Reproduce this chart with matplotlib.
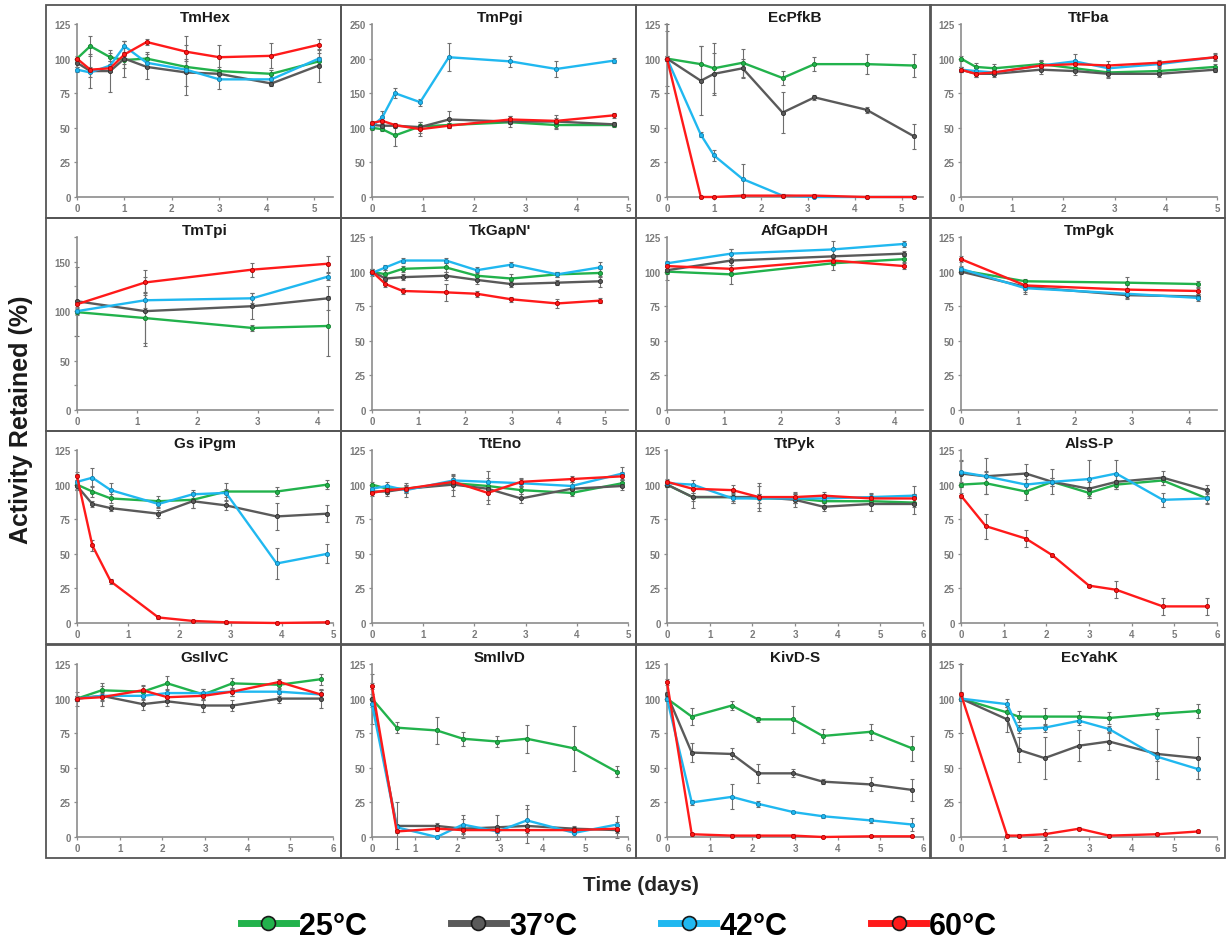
import matplotlib.pyplot as plt
from matplotlib.patches import Rectangle
from matplotlib.lines import Line2D
from matplotlib.ticker import MultipleLocator

plt.rcParams['font.family'] = ['Liberation Sans', 'DejaVu Sans']
plt.rcParams['font.weight'] = 'bold'

temps = ['25°C', '37°C', '42°C', '60°C']
colors = ['#22b24c', '#5a5a5a', '#20b8f0', '#ff1a1a']
edges = ['#15802f', '#303030', '#1080b0', '#b00000']

# ---- data: x = time (days), y = activity retained (%) for 25/37/42/60 C, err = error bar
tmhex_x = [0, 0.28, 0.7, 1.0, 1.47, 2.3, 3.0, 4.1, 5.1]
tmhex_y = [[100, 109, 101, 99, 100, 94, 91, 89, 98],
           [97, 91, 91, 100, 94, 90, 89, 82, 95],
           [92, 90, 95, 109, 97, 92, 85, 85, 100],
           [100, 92, 93, 103, 112, 105, 101, 102, 110]]
tmhex_err = [[0, 7, 3, 3, 5, 4, 3, 3, 3],
             [3, 12, 15, 13, 9, 10, 3, 2, 12],
             [2, 3, 3, 4, 4, 18, 7, 3, 4],
             [2, 2, 3, 10, 2, 11, 9, 9, 4]]

tmpgi_x = [0, 0.2, 0.45, 0.94, 1.5, 2.7, 3.6, 4.72]
tmpgi_y = [[100, 98, 89, 102, 104, 108, 104, 104],
           [104, 103, 103, 101, 112, 109, 109, 105],
           [102, 115, 150, 137, 202, 196, 185, 197],
           [107, 110, 104, 98, 103, 112, 110, 118]]
tmpgi_err = [[3, 3, 15, 3, 3, 3, 6, 3],
             [4, 4, 3, 8, 13, 8, 10, 3],
             [4, 10, 7, 5, 20, 8, 12, 4],
             [3, 4, 3, 10, 4, 5, 4, 4]]

ecpfkb_x = [0, 0.72, 1.0, 1.61, 2.46, 3.14, 4.25, 5.25]
ecpfkb_y = [[100, 96, 93, 97, 86, 96, 96, 95],
            [100, 84, 89, 93, 61, 72, 63, 44],
            [100, 45, 30, 13, 1, 0, 0, 0],
            [100, 0, 0, 1, 1, 1, 0, 0]]
ecpfkb_err = [[25, 13, 18, 10, 5, 5, 7, 8],
              [20, 25, 15, 7, 15, 2, 2, 9],
              [2, 2, 4, 11, 1, 0, 0, 0],
              [2, 1, 1, 1, 1, 1, 1, 1]]

ttfba_x = [0, 0.29, 0.65, 1.56, 2.22, 2.88, 3.86, 4.97]
ttfba_y = [[100, 94, 93, 96, 93, 90, 91, 94],
           [92, 89, 89, 92, 91, 89, 89, 92],
           [92, 91, 90, 95, 98, 93, 96, 101],
           [92, 89, 90, 95, 96, 95, 97, 101]]
ttfba_err = [[2, 3, 3, 3, 3, 3, 2, 2],
             [2, 2, 2, 3, 3, 3, 2, 2],
             [2, 2, 2, 3, 5, 2, 2, 2],
             [2, 2, 2, 3, 3, 3, 2, 3]]

tmtpi_x = [0, 1.13, 2.91, 4.17]
tmtpi_y = [[99, 93, 83, 85],
           [110, 100, 105, 113],
           [100, 111, 113, 135],
           [107, 129, 142, 148]]
tmtpi_err = [[3, 25, 3, 30],
             [35, 35, 13, 12],
             [3, 8, 5, 4],
             [3, 13, 7, 8]]

tkgapn_x = [0, 0.29, 0.66, 1.59, 2.25, 2.99, 3.98, 4.89]
tkgapn_y = [[100, 98, 102, 103, 97, 95, 98, 99],
            [100, 95, 96, 97, 94, 91, 92, 93],
            [99, 103, 108, 108, 101, 105, 98, 103],
            [100, 91, 86, 85, 84, 80, 77, 79]]
tkgapn_err = [[2, 3, 2, 3, 3, 3, 2, 3],
              [2, 2, 2, 3, 3, 2, 2, 4],
              [2, 2, 2, 2, 2, 2, 2, 4],
              [2, 2, 2, 6, 2, 2, 3, 2]]

afgapdh_x = [0, 1.13, 2.91, 4.17]
afgapdh_y = [[100, 98, 106, 109],
             [101, 108, 111, 113],
             [106, 113, 116, 120],
             [104, 102, 108, 104]]
afgapdh_err = [[6, 7, 5, 2],
               [3, 8, 6, 2],
               [2, 3, 6, 2],
               [2, 3, 3, 2]]

tmpgk_x = [0, 1.13, 2.91, 4.17]
tmpgk_y = [[101, 93, 92, 91],
           [100, 89, 83, 82],
           [102, 88, 84, 81],
           [109, 90, 87, 86]]
tmpgk_err = [[2, 2, 4, 2],
             [2, 5, 3, 2],
             [2, 3, 3, 2],
             [2, 3, 3, 2]]

gsipgm_x = [0, 0.3, 0.66, 1.59, 2.26, 2.91, 3.9, 4.89]
gsipgm_y = [[100, 95, 90, 88, 89, 95, 95, 100],
            [99, 86, 83, 79, 88, 85, 77, 79],
            [102, 105, 96, 86, 93, 94, 43, 50],
            [106, 56, 30, 4, 1.5, 0.5, 0, 0.5]]
gsipgm_err = [[3, 4, 3, 4, 6, 6, 3, 3],
              [3, 2, 2, 3, 5, 3, 10, 6],
              [6, 7, 5, 3, 3, 3, 11, 7],
              [3, 4, 2, 1, 1, 1, 0, 0]]

tteno_x = [0, 0.3, 0.66, 1.59, 2.26, 2.91, 3.9, 4.89]
tteno_y = [[100, 97, 97, 101, 99, 96, 94, 101],
           [95, 95, 97, 100, 97, 90, 97, 99],
           [97, 99, 96, 103, 102, 101, 99, 108],
           [94, 96, 97, 102, 94, 102, 104, 106]]
tteno_err = [[2, 3, 3, 5, 3, 3, 2, 3],
             [2, 3, 3, 8, 8, 3, 2, 3],
             [2, 3, 5, 4, 8, 3, 3, 5],
             [2, 3, 2, 3, 8, 3, 2, 3]]

ttpyk_x = [0, 0.6, 1.54, 2.15, 3.0, 3.67, 4.79, 5.78]
ttpyk_y = [[100, 91, 91, 90, 90, 88, 88, 87],
           [100, 91, 91, 91, 89, 84, 86, 86],
           [101, 100, 90, 90, 90, 90, 91, 92],
           [102, 97, 96, 91, 91, 92, 90, 90]]
ttpyk_err = [[2, 3, 3, 3, 3, 3, 3, 3],
             [2, 8, 4, 10, 5, 3, 5, 7],
             [2, 3, 3, 3, 3, 3, 3, 7],
             [2, 3, 4, 8, 4, 3, 3, 3]]

alssp_x = [0, 0.58, 1.52, 2.14, 3.0, 3.64, 4.73, 5.76]
alssp_y = [[100, 101, 95, 102, 94, 100, 103, 90],
           [108, 106, 108, 102, 97, 102, 105, 96],
           [109, 106, 100, 102, 104, 108, 89, 90],
           [92, 70, 61, 49, 27, 24, 12, 12]]
alssp_err = [[2, 8, 6, 3, 4, 3, 3, 4],
             [10, 13, 7, 9, 5, 5, 5, 4],
             [8, 4, 4, 3, 14, 10, 5, 3],
             [2, 9, 6, 1, 1, 6, 6, 6]]

gsilvc_x = [0, 0.58, 1.54, 2.12, 2.96, 3.64, 4.74, 5.71]
gsilvc_y = [[100, 106, 105, 111, 103, 111, 110, 114],
            [100, 102, 96, 98, 95, 95, 100, 100],
            [100, 102, 102, 104, 104, 105, 105, 103],
            [100, 101, 106, 101, 102, 105, 112, 103]]
gsilvc_err = [[2, 5, 4, 5, 4, 4, 3, 4],
              [5, 7, 4, 3, 5, 4, 3, 7],
              [2, 3, 3, 3, 3, 3, 3, 3],
              [2, 3, 4, 2, 3, 3, 2, 3]]

smilvd_x = [0, 0.58, 1.52, 2.13, 2.94, 3.63, 4.74, 5.74]
smilvd_y = [[100, 79, 77, 71, 69, 71, 64, 47],
            [100, 8, 8, 6, 7, 8, 6, 5],
            [96, 7, 0, 9, 4, 12, 3, 9],
            [109, 4, 6, 5, 5, 5, 5, 6]]
smilvd_err = [[3, 4, 10, 5, 4, 10, 16, 4],
              [18, 17, 2, 7, 9, 12, 2, 6],
              [2, 2, 1, 7, 3, 11, 2, 6],
              [2, 1, 2, 2, 2, 2, 2, 2]]

kivds_x = [0, 0.58, 1.52, 2.13, 2.96, 3.65, 4.77, 5.75]
kivds_y = [[100, 87, 95, 85, 85, 73, 76, 64],
           [103, 61, 60, 46, 46, 40, 38, 34],
           [100, 25, 29, 24, 18, 15, 12, 9],
           [112, 2, 1, 1, 1, 0, 0.5, 0.5]]
kivds_err = [[2, 6, 3, 2, 10, 5, 6, 9],
             [2, 7, 4, 7, 3, 2, 5, 8],
             [2, 2, 9, 2, 1, 1, 2, 5],
             [2, 1, 1, 1, 1, 0, 0, 0]]

ecyahk_x = [0, 1.08, 1.35, 1.96, 2.77, 3.47, 4.6, 5.56]
ecyahk_y = [[100, 90, 87, 87, 87, 86, 89, 91],
            [100, 85, 63, 57, 66, 69, 60, 57],
            [100, 96, 78, 79, 84, 78, 58, 49],
            [103, 1, 1, 2, 6, 1, 2, 4]]
ecyahk_err = [[2, 4, 4, 6, 4, 4, 4, 5],
              [25, 9, 9, 15, 11, 6, 18, 15],
              [2, 4, 3, 3, 3, 2, 3, 7],
              [2, 1, 1, 4, 1, 1, 1, 1]]

# title, x, y, err, x max, y max, y major step
panels = [
    ('TmHex', tmhex_x, tmhex_y, tmhex_err, 5.4, 125, 25),
    ('TmPgi', tmpgi_x, tmpgi_y, tmpgi_err, 5, 250, 50),
    ('EcPfkB', ecpfkb_x, ecpfkb_y, ecpfkb_err, 5.45, 125, 25),
    ('TtFba', ttfba_x, ttfba_y, ttfba_err, 5, 125, 25),
    ('TmTpi', tmtpi_x, tmtpi_y, tmtpi_err, 4.25, 175, 50),
    ("TkGapN'", tkgapn_x, tkgapn_y, tkgapn_err, 5.5, 125, 25),
    ('AfGapDH', afgapdh_x, afgapdh_y, afgapdh_err, 4.5, 125, 25),
    ('TmPgk', tmpgk_x, tmpgk_y, tmpgk_err, 4.5, 125, 25),
    ('Gs iPgm', gsipgm_x, gsipgm_y, gsipgm_err, 5, 125, 25),
    ('TtEno', tteno_x, tteno_y, tteno_err, 5, 125, 25),
    ('TtPyk', ttpyk_x, ttpyk_y, ttpyk_err, 6, 125, 25),
    ('AlsS-P', alssp_x, alssp_y, alssp_err, 6, 125, 25),
    ('GsIlvC', gsilvc_x, gsilvc_y, gsilvc_err, 6, 125, 25),
    ('SmIlvD', smilvd_x, smilvd_y, smilvd_err, 6, 125, 25),
    ('KivD-S', kivds_x, kivds_y, kivds_err, 6, 125, 25),
    ('EcYahK', ecyahk_x, ecyahk_y, ecyahk_err, 6, 125, 25),
]

W, H = 1231, 945
fig = plt.figure(figsize=(W / 100, H / 100), dpi=100)

col_left = [46, 341, 636, 930]
row_top = [6, 219, 432, 646]
cell_w, cell_h = 295, 213

for i, (title, x, ys, errs, xmax, ymax, ystep) in enumerate(panels):
    r, c = divmod(i, 4)
    cx, cy = col_left[c], row_top[r]
    # panel frame
    fig.add_artist(Rectangle((cx / W, 1 - (cy + cell_h) / H), cell_w / W, cell_h / H,
                             transform=fig.transFigure, fill=False,
                             ec='#555555', lw=1.3))
    ax = fig.add_axes([(cx + 31) / W, 1 - (cy + 19 + 173) / H, 256 / W, 173 / H])

    for y, e in zip(ys, errs):
        ax.errorbar(x, y, yerr=e, fmt='none', ecolor='#6e6e6e', elinewidth=0.8,
                    capsize=1.5, capthick=0.8, clip_on=False, zorder=2)
    for y, col, ec in zip(ys, colors, edges):
        ax.plot(x, y, '-o', color=col, lw=1.7, ms=3, mfc=col, mec=ec, mew=0.6,
                clip_on=False, zorder=3)

    ax.set_xlim(0, xmax)
    ax.set_ylim(0, ymax)
    ax.xaxis.set_major_locator(MultipleLocator(1))
    ax.yaxis.set_major_locator(MultipleLocator(ystep))
    if title == 'TmTpi':
        ax.yaxis.set_minor_locator(MultipleLocator(25))
    ax.set_title(title, fontsize=11, fontweight='bold', pad=2, color='#1a1a1a')
    for s in ['top', 'right']:
        ax.spines[s].set_visible(False)
    for s in ['left', 'bottom']:
        ax.spines[s].set_color('#8c8c8c')
        ax.spines[s].set_linewidth(1.2)
    ax.tick_params(which='both', direction='out', length=2.5, width=0.9, color='#8c8c8c',
                   labelsize=7, labelcolor='#7a7a7a', pad=2)
    ax.tick_params(which='minor', length=2)

fig.text(21 / W, 1 - 420 / H, 'Activity Retained (%)', rotation=90, ha='center',
         va='center', fontsize=18, fontweight='bold', color='#1a1a1a')
fig.text(641 / W, 1 - 886 / H, 'Time (days)', ha='center', va='center',
         fontsize=15, fontweight='bold', color='#262626')

handles = [Line2D([], [], color=col, lw=5, marker='o', ms=10, mfc=col, mec='#1a1a1a', mew=1.2)
           for col in colors]
fig.legend(handles, temps, loc='center', bbox_to_anchor=(619 / W, 1 - 927 / H), ncol=4,
           frameon=False, handlelength=1.8, handletextpad=0.1, columnspacing=2.75,
           prop={'weight': 'bold', 'size': 22})

fig.savefig('out.png', dpi=100)
